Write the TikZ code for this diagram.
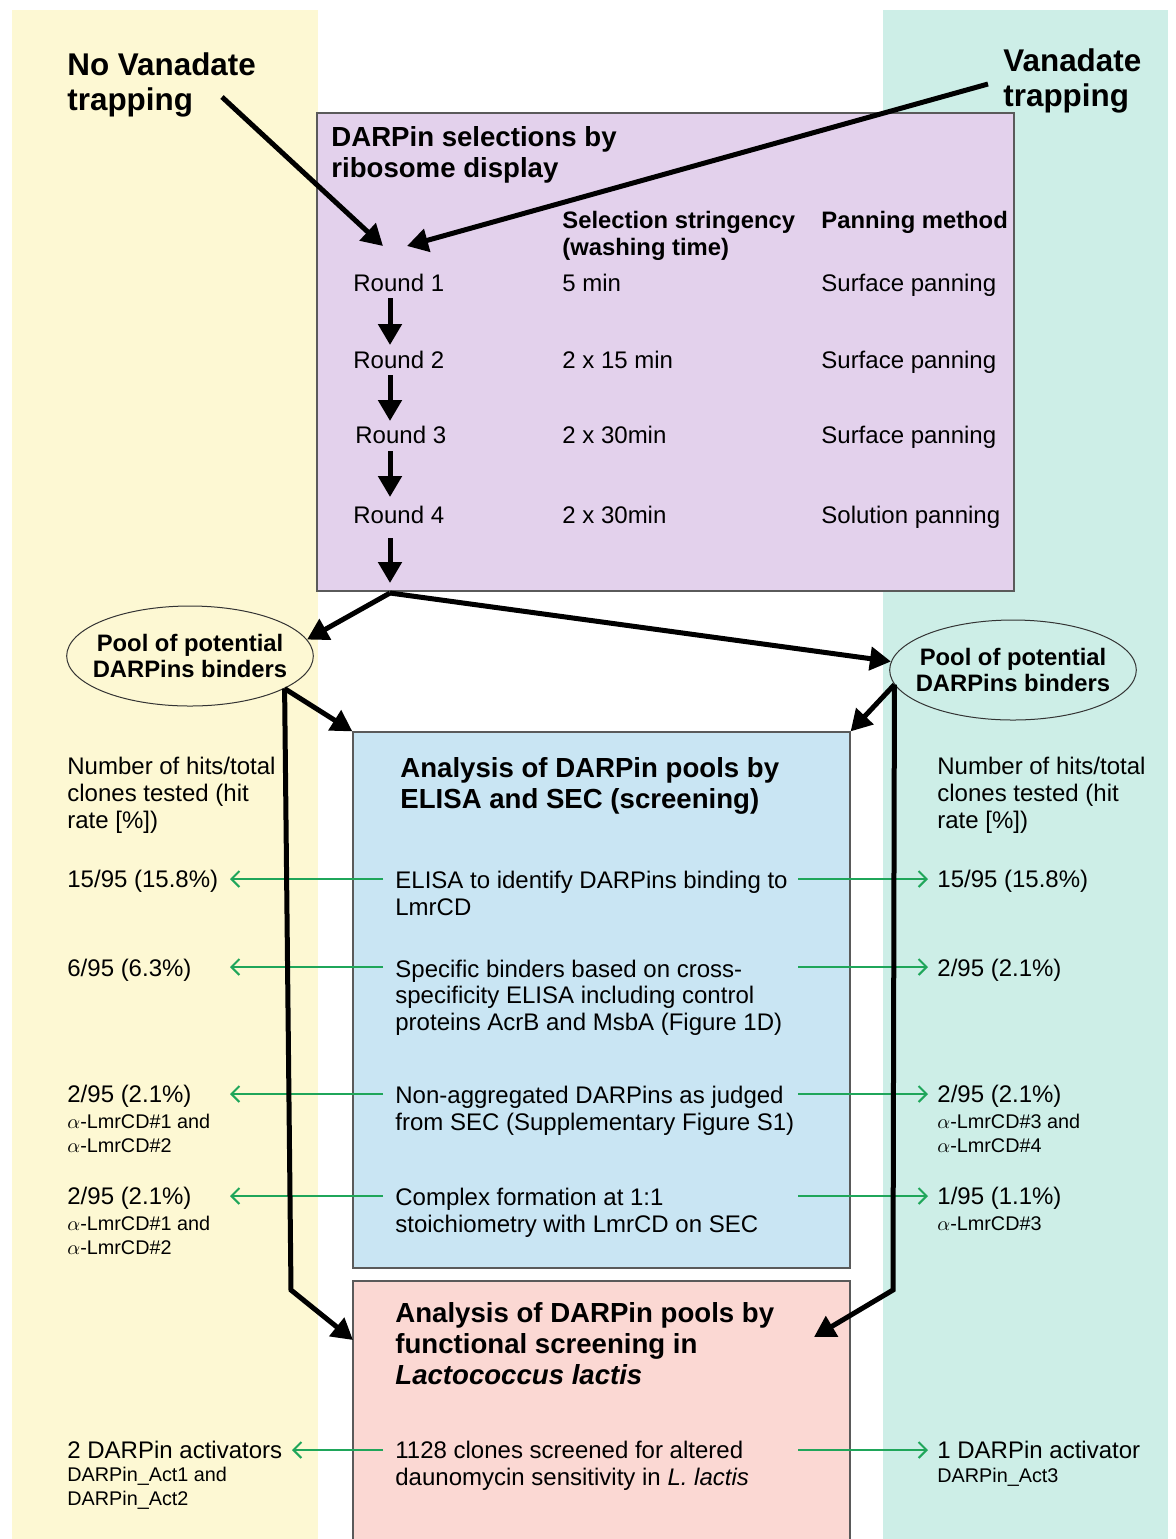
\documentclass[tikz,border=0pt]{standalone}
\usepackage{fontspec}
\setmainfont{Liberation Sans}
\usetikzlibrary{arrows.meta,positioning,shapes.geometric,fit}

\definecolor{novanfill}{HTML}{FDF8D3}
\definecolor{vanfill}{HTML}{CDEEE7}
\definecolor{selfill}{HTML}{E3D1EC}
\definecolor{scrfill}{HTML}{C9E5F3}
\definecolor{funfill}{HTML}{FBD8D3}
\definecolor{hitgreen}{HTML}{1FA65A}
\definecolor{boxline}{HTML}{5A5A5A}

% multi-line texts sit on the baseline of their last line
\tikzset{
  txt/.style={anchor=base west,align=left,inner sep=0pt,font=\fontsize{12}{13.3}\selectfont},
  small/.style={txt,font=\fontsize{9.9}{11.9}\selectfont},
  colhead/.style={txt,font=\fontsize{11.9}{13.5}\selectfont\bfseries},
  title/.style={txt,font=\fontsize{13.8}{15.5}\selectfont\bfseries},
  big/.style={txt,font=\fontsize{15.7}{17.5}\selectfont\bfseries},
  box/.style={draw=boxline,line width=0.6pt,inner sep=0pt},
  pool/.style={ellipse,draw=black!80,line width=0.5pt,minimum width=123pt,minimum height=50pt,
    inner xsep=-5pt,inner ysep=3pt,align=center,font=\fontsize{11.9}{13}\selectfont\bfseries},
  flow/.style={line width=2.5pt,-{Triangle[length=10.5pt,width=11.5pt]}},
  hit/.style={hitgreen,line width=1pt,-{Straight Barb[length=4pt,width=8pt]}}
}

\begin{document}
\begin{tikzpicture}[x=0.5pt,y=-0.5pt]
\useasboundingbox (0,0) rectangle (1176,1539);
\clip (0,0) rectangle (1176,1539);

% side bands
\fill[novanfill] (12,10) rectangle (318,1545);
\fill[vanfill] (883,10) rectangle (1168,1545);

% boxes
\node[box,fill=selfill,fit={(317,113) (1014,591)}] (sel) {};
\node[box,fill=scrfill,fit={(353,732) (850,1268)}] (scr) {};
\node[box,fill=funfill,fit={(353,1281) (850,1548)}] (fun) {};

% headings
\node[big] (novan) at (67,110) {No Vanadate\\trapping};
\node[big] (van) at (1003,106) {Vanadate\\trapping};
\node[title] (seltitle) at (331,177) {DARPin selections by\\ribosome display};
\node[colhead] (strhead) at (562,255) {Selection stringency\\(washing time)};
\node[colhead] (panhead) at (821,228) {Panning method};

% rounds
\node[txt] (r1) at (353,291.5) {Round 1};
\node[txt] (r2) at (353,368.5) {Round 2};
\node[txt] (r3) at (355,443.5) {Round 3};
\node[txt] (r4) at (353,523.5) {Round 4};
\node[txt] (w1) at (562,291.5) {5 min};
\node[txt] (w2) at (562,368.5) {2 x 15 min};
\node[txt] (w3) at (562,443.5) {2 x 30min};
\node[txt] (w4) at (562,523.5) {2 x 30min};
\node[txt] (p1) at (821,291.5) {Surface panning};
\node[txt] (p2) at (821,368.5) {Surface panning};
\node[txt] (p3) at (821,443.5) {Surface panning};
\node[txt] (p4) at (821,523.5) {Solution panning};

% pools
\node[pool] (lpool) at (190,656) {Pool of potential\\DARPins binders};
\node[pool] (rpool) at (1013,670) {Pool of potential\\DARPins binders};

% screening box
\node[title] (scrtitle) at (400,808) {Analysis of DARPin pools by\\ELISA and SEC (screening)};
\node[txt] (s1) at (395,915) {ELISA to identify DARPins binding to\\LmrCD};
\node[txt] (s2) at (395,1030.5) {Specific binders based on cross-\\specificity ELISA including control\\proteins AcrB and MsbA (Figure 1D)};
\node[txt] (s3) at (395,1130) {Non-aggregated DARPins as judged\\from SEC (Supplementary Figure S1)};
\node[txt] (s4) at (395,1232) {Complex formation at 1:1\\stoichiometry with LmrCD on SEC};

% functional box
\node[title] (funtitle) at (395,1384) {Analysis of DARPin pools by\\functional screening in\\\itshape Lactococcus lactis};
\node[txt] (f1) at (395,1485.5) {1128 clones screened for altered\\daunomycin sensitivity in \textit{L. lactis}};

% left column
\node[txt] (lhead) at (67,828) {Number of hits/total\\clones tested (hit\\rate [\%])};
\node[txt] (lv1) at (67,887.5) {15/95 (15.8\%)};
\node[txt] (lv2) at (67,976.5) {6/95 (6.3\%)};
\node[txt] (lv3) at (67,1102.5) {2/95 (2.1\%)};
\node[small] (ln3) at (67,1152) {$\alpha$-LmrCD\#1 and\\$\alpha$-LmrCD\#2};
\node[txt] (lv4) at (67,1204.5) {2/95 (2.1\%)};
\node[small] (ln4) at (67,1254) {$\alpha$-LmrCD\#1 and\\$\alpha$-LmrCD\#2};
\node[txt] (lv5) at (67,1458.5) {2 DARPin activators};
\node[small] (ln5) at (67,1505) {DARPin\_Act1 and\\DARPin\_Act2};

% right column
\node[txt] (rhead) at (937,828) {Number of hits/total\\clones tested (hit\\rate [\%])};
\node[txt] (rv1) at (937,887.5) {15/95 (15.8\%)};
\node[txt] (rv2) at (937,976.5) {2/95 (2.1\%)};
\node[txt] (rv3) at (937,1102.5) {2/95 (2.1\%)};
\node[small] (rn3) at (937,1152) {$\alpha$-LmrCD\#3 and\\$\alpha$-LmrCD\#4};
\node[txt] (rv4) at (937,1204.5) {1/95 (1.1\%)};
\node[small] (rn4) at (937,1230) {$\alpha$-LmrCD\#3};
\node[txt] (rv5) at (937,1458.5) {1 DARPin activator};
\node[small] (rn5) at (937,1482) {DARPin\_Act3};

% green hit arrows
\foreach \y/\xl [count=\i] in {879/230,967/230,1094/230,1196/230,1450/292} {
  \coordinate (il\i) at (383,\y);
  \coordinate (vl\i) at (\xl,\y);
  \coordinate (ir\i) at (798,\y);
  \coordinate (vr\i) at (928,\y);
  \draw[hit] (il\i) -- (vl\i);
  \draw[hit] (ir\i) -- (vr\i);
}

% trapping arrows
\coordinate (nvtail) at (222,97);
\coordinate (vtail) at (988,84);
\coordinate (nvtip) at (383,246);
\coordinate (vtip) at (407,246);
\draw[flow] (nvtail) -- (nvtip);
\draw[flow] (vtail) -- (vtip);

% round arrows
\foreach \a/\b in {298/345,375/421,451/497,538/583}
  \draw[flow] (390,\a) -- (390,\b);

% split to pools
\coordinate (split) at (390,593);
\draw[flow] (split) -- (lpool.8);
\draw[flow] (split) -- (rpool.176);

% pools to analysis boxes
\coordinate (lbend) at (291,1290);
\coordinate (rbend) at (893,1290);
\coordinate (ltip) at (353,1340);
\coordinate (rtip) at (814,1337);
\draw[flow] (lpool.-19) -- (scr.north west);
\draw[flow] (rpool.187) -- (scr.north east);
\draw[flow] (lpool.-19) -- (lbend) -- (ltip);
\draw[flow] (rpool.187) -- (rbend) -- (rtip);
\end{tikzpicture}
\end{document}
